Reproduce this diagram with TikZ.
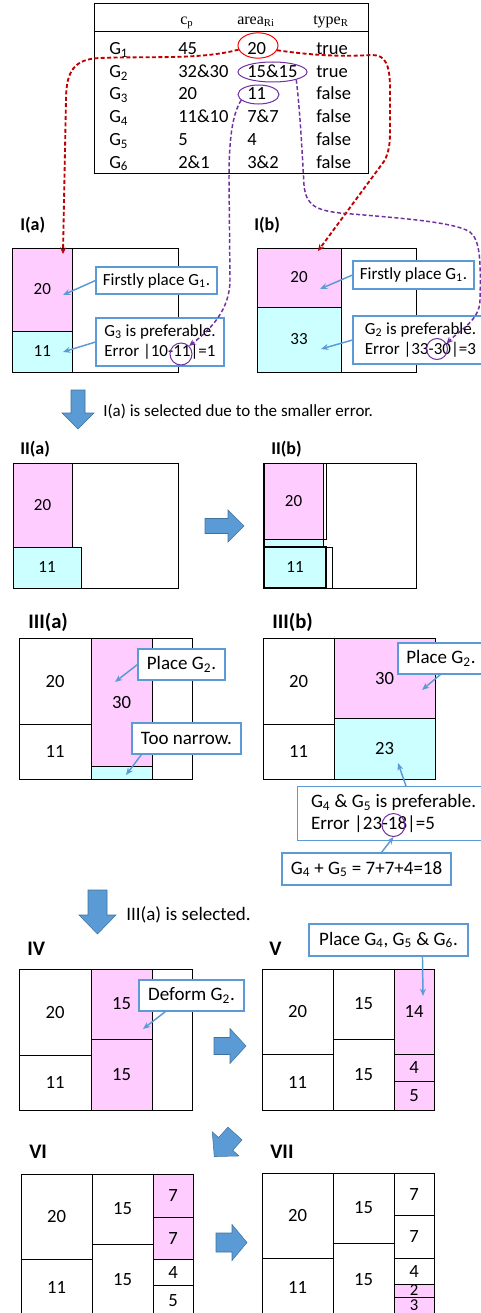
\documentclass[tikz,border=0pt]{standalone}
\usepackage{fontspec}
\setmainfont{Carlito}
\newfontfamily\tabserif{Liberation Serif}
\usetikzlibrary{arrows.meta,calc,shapes.geometric}
\definecolor{pinkf}{HTML}{FFCCFF}
\definecolor{cyanf}{HTML}{CCFFFF}
\definecolor{callblue}{HTML}{5B9BD5}
\definecolor{arrfill}{HTML}{5B9BD5}
\definecolor{arrline}{HTML}{41719C}
\definecolor{darkred}{HTML}{C00000}
\definecolor{brightred}{HTML}{FF0000}
\definecolor{purp}{HTML}{7030A0}
\newcommand{\cellnode}[8][]{\pgfmathsetmacro\mycw{(#5-#3)*0.75}\pgfmathsetmacro\mych{(#6-#4)*0.75}\node[cellbox,#1,fill=#7,minimum width=\mycw pt,minimum height=\mych pt] (#2) at ({(#3+#5)/2},{(#4+#6)/2}) {#8};}
\newcommand{\callnode}[8][]{\pgfmathsetmacro\mycw{(#5-#3)*0.75}\pgfmathsetmacro\mych{(#6-#4)*0.75}\node[calloutbox,#1,align=#7,minimum width=\mycw pt,minimum height=\mych pt] (#2) at ({(#3+#5)/2},{(#4+#6)/2}) {#8};}
\newcommand{\blockarr}[7]{\begin{scope}[shift={(#1,#2)},rotate=#3]\filldraw[blockarrow] (0,{-#6/2}) -- ({#4-#5},{-#6/2}) -- ({#4-#5},{-#7/2}) -- (#4,0) -- ({#4-#5},{#7/2}) -- ({#4-#5},{#6/2}) -- (0,{#6/2}) -- cycle;\end{scope}}
\begin{document}
\begin{tikzpicture}[x=0.75pt,y=-0.75pt,
 cellbox/.style={draw=black,line width=0.75pt,inner sep=0pt,font=\fontsize{12.75}{15}\selectfont},
 bignum/.style={font=\fontsize{14}{17}\selectfont},
 tinynum/.style={font=\fontsize{12.5}{13}\selectfont},
 calloutbox/.style={draw=callblue,fill=white,line width=0.8pt,inner sep=0pt,font=\fontsize{12.75}{15.3}\selectfont},
 bigtext/.style={font=\fontsize{14.25}{17}\selectfont},
 callarrow/.style={callblue,line width=1.1pt,-{Stealth[length=5.5pt,width=4.5pt]}},
 blockarrow/.style={fill=arrfill,draw=arrline,line width=0.4pt},
 reddash/.style={darkred,line width=1.4pt,dash pattern=on 3pt off 1.8pt,-{Stealth[length=5pt,width=4.5pt]}},
 purpdash/.style={purp,line width=1.1pt,dash pattern=on 3pt off 1.8pt,-{Stealth[length=5pt,width=4.5pt]}},
 tabtext/.style={font=\fontsize{13.9}{16}\selectfont,inner sep=0pt,anchor=base west},
 hdrtext/.style={font=\tabserif\fontsize{12}{14}\selectfont,inner sep=0pt,anchor=base west},
 plabel/.style={font=\fontsize{13.5}{16}\selectfont\bfseries,inner sep=0pt,anchor=base west},
 biglabel/.style={font=\fontsize{15.5}{18}\selectfont\bfseries,inner sep=0pt,anchor=base west},
 bodytext/.style={font=\fontsize{12.75}{15}\selectfont,inner sep=0pt,anchor=base west},
 ring/.style={draw=purp,line width=0.75pt,inner sep=0pt}]
\useasboundingbox (0,0) rectangle (481,1313);
\clip (0,0) rectangle (481,1313);
% ---------- table ----------
\node[draw=black,line width=0.75pt,minimum width=205.5pt,minimum height=128pt,inner sep=0pt] (tbl) at (231.3,88.65) {};
\draw[line width=0.75pt] ($(tbl.north west)+(0,29)$) -- ($(tbl.north east)+(0,29)$);
\node[hdrtext] (h1) at (180,24.5) {c\textsubscript{p}};
\node[hdrtext] (h2) at (237,24.5) {area\textsubscript{Ri}};
\node[hdrtext] (h3) at (313,24.5) {type\textsubscript{R}};
\node[tabtext] (g1) at (109,54.5) {G\textsubscript{1}};
\node[tabtext] (g2) at (109,77.2) {G\textsubscript{2}};
\node[tabtext] (g3) at (109,99.9) {G\textsubscript{3}};
\node[tabtext] (g4) at (109,122.6) {G\textsubscript{4}};
\node[tabtext] (g5) at (109,145.3) {G\textsubscript{5}};
\node[tabtext] (g6) at (109,168) {G\textsubscript{6}};
\node[tabtext] (p1) at (178,54.5) {45};
\node[tabtext] (p2) at (178,77.2) {32\&30};
\node[tabtext] (p3) at (178,99.9) {20};
\node[tabtext] (p4) at (178,122.6) {11\&10};
\node[tabtext] (p5) at (178,145.3) {5};
\node[tabtext] (p6) at (178,168) {2\&1};
\node[tabtext] (a1) at (247,54.5) {20};
\node[tabtext] (a2) at (247,77.2) {15\&15};
\node[tabtext] (a3) at (247,99.9) {11};
\node[tabtext] (a4) at (247,122.6) {7\&7};
\node[tabtext] (a5) at (247,145.3) {4};
\node[tabtext] (a6) at (247,168) {3\&2};
\node[tabtext] (r1) at (316,54.5) {true};
\node[tabtext] (r2) at (316,77.2) {true};
\node[tabtext] (r3) at (316,99.9) {false};
\node[tabtext] (r4) at (316,122.6) {false};
\node[tabtext] (r5) at (316,145.3) {false};
\node[tabtext] (r6) at (316,168) {false};
\node[draw=brightred,line width=0.75pt,ellipse,inner sep=0pt,minimum width=30pt,minimum height=19pt] (e20) at (258,45.5) {};
\node[ring,ellipse,minimum width=51.75pt,minimum height=15pt] (e1515) at (272.5,72) {};
\node[ring,ellipse,minimum width=30.75pt,minimum height=14.25pt] (e11) at (258.5,94.5) {};
% ---------- I(a) ----------
\node[plabel] (lIa) at (20,230) {I(a)};
\cellnode{Ia}{12.7}{248}{178}{372}{white}{}
\cellnode{Ia20}{12.7}{248}{72}{331}{pinkf}{20}
\cellnode{Ia11}{12.7}{331}{72}{372}{cyanf}{11}
\callnode{IaC1}{96}{267}{217}{294}{center}{Firstly place G\textsubscript{1}.}
\callnode{IaC2}{96}{318}{224}{366}{left}{G\textsubscript{3} is preferable.\\Error |10-11|=1}
\coordinate (aIa1) at (63,295);
\coordinate (aIa2) at (63,352);
\draw[callarrow] (IaC1.west) -- (aIa1);
\draw[callarrow] (IaC2.west) -- (aIa2);
\node[ring,circle,minimum size=16.5pt] (c11) at (181,354) {};
% ---------- I(b) ----------
\node[plabel] (lIb) at (254,230) {I(b)};
\cellnode{Ib}{257}{248}{416}{372}{white}{}
\cellnode{Ib20}{257}{248}{341}{307}{pinkf}{20}
\cellnode{Ib33}{257}{307}{341}{372}{cyanf}{33}
\callnode{IbC1}{353}{261}{474}{289}{center}{Firstly place G\textsubscript{1}.}
\callnode{IbC2}{353}{316}{488}{364}{left}{G\textsubscript{2} is preferable.\\Error |33-30|=3}
\coordinate (aIb1) at (320,289);
\coordinate (aIb2) at (321,349);
\draw[callarrow] (IbC1.west) -- (aIb1);
\draw[callarrow] (IbC2.west) -- (aIb2);
\node[ring,circle,minimum size=15.75pt] (c30) at (437,349) {};
% ---------- dashed links ----------
\coordinate (tIa) at (63,254);
\coordinate (tIb) at (318,251);
\draw[reddash] (e20.192) .. controls (200,60) and (150,56) .. (100,58) .. controls (75,59) and (66,70) .. (66,100) -- (tIa);
\draw[reddash] (e20.346) .. controls (310,55) and (340,57) .. (372,55) .. controls (386,55) and (390,65) .. (390,90) -- (390,130) .. controls (390,145) and (389,150) .. (385,160) -- (tIb);
\draw[purpdash] (e11.198) .. controls (232,115) and (229,140) .. (229,180) -- (230,280) .. controls (230,310) and (210,330) .. (c11.45);
\draw[purpdash] (e1515.-18) .. controls (300,110) and (302,150) .. (304,185) .. controls (306,205) and (315,210) .. (340,213) .. controls (400,218) and (455,222) .. (470,232) .. controls (480,240) and (481,260) .. (480,300) .. controls (480,320) and (460,330) .. (c30.30);
% ---------- step 1 arrow ----------
\blockarr{78}{390}{-90}{39}{16}{14}{32}
\node[bodytext] (s1) at (103,416) {I(a) is selected due to the smaller error.};
% ---------- II(a) ----------
\node[plabel] (lIIa) at (20,454) {II(a)};
\cellnode{IIa}{13}{463}{178}{588}{white}{}
\cellnode{IIa20}{13}{463}{72}{547}{pinkf}{20}
\cellnode{IIa11}{13}{547}{81}{588}{cyanf}{11}
\blockarr{205}{526}{0}{39}{16}{15}{32}
% ---------- II(b) ----------
\node[plabel] (lIIb) at (271,454) {II(b)};
\cellnode{IIb}{263}{463}{416}{588}{white}{}
\cellnode{IIb20}{264}{463}{323}{539}{pinkf}{20}
\cellnode{IIbx}{264}{463}{326}{539}{none}{}
\cellnode{IIbs}{264}{539}{323}{547}{cyanf}{}
\cellnode{IIby}{264}{547}{332}{588}{none}{}
\cellnode[line width=1.4pt]{IIb11}{264}{547}{326}{588}{cyanf}{11}
% ---------- III(a) ----------
\node[biglabel] (lIIIa) at (28,628) {III(a)};
\cellnode{IIIa}{19}{638}{192}{779}{white}{}
\cellnode[bignum]{IIIa20}{19}{638}{91}{724}{white}{20}
\cellnode[bignum]{IIIa11}{19}{724}{91}{779}{white}{11}
\cellnode[bignum]{IIIa30}{91}{638}{152}{766}{pinkf}{30}
\cellnode{IIIas}{91}{766}{152}{779}{cyanf}{}
\callnode[bigtext]{IIIaC1}{138}{649}{225}{680}{center}{Place G\textsubscript{2}.}
\callnode[bigtext]{IIIaC2}{132}{723}{241}{754}{center}{Too narrow.}
\coordinate (aIIIa1) at (115,682);
\coordinate (aIIIa2) at (126,775);
\draw[callarrow] (IIIaC1.west) -- (aIIIa1);
\draw[callarrow] ($(IIIaC2.south west)+(10,0)$) -- (aIIIa2);
% ---------- III(b) ----------
\node[biglabel] (lIIIb) at (272,628) {III(b)};
\cellnode{IIIb}{263}{638}{435}{779}{white}{}
\cellnode[bignum]{IIIb20}{263}{638}{334}{724}{white}{20}
\cellnode[bignum]{IIIb11}{263}{724}{334}{779}{white}{11}
\cellnode[bignum]{IIIb30}{334}{638}{435}{718}{pinkf}{30}
\cellnode[bignum]{IIIb23}{334}{718}{435}{779}{cyanf}{23}
\callnode[bigtext]{IIIbC1}{398}{643}{484}{674}{center}{Place G\textsubscript{2}.}
\node[calloutbox,bigtext,anchor=north west,minimum width=144pt,minimum height=40.5pt,inner xsep=6pt,align=left] (IIIbC2) at (297,786) {G\textsubscript{4} \& G\textsubscript{5} is preferable.\\Error |23-18|=5};
\callnode[bigtext]{IIIbC3}{282}{853}{451}{885}{center}{G\textsubscript{4} + G\textsubscript{5} = 7+7+4=18}
\coordinate (aIIIb1) at (422,690);
\coordinate (aIIIb2) at (398,763);
\draw[callarrow] ($(IIIbC1.south west)+(43,0)$) -- (aIIIb1);
\draw[callarrow] ($(IIIbC2.north west)+(109,0)$) -- (aIIIb2);
\node[ring,circle,minimum size=17.25pt] (c18) at (393.5,825) {};
\draw[callarrow] ($(IIIbC3.north west)+(100,0)$) -- (c18.south);
% ---------- step 2 arrow ----------
\blockarr{97.5}{890}{-90}{44}{19}{19}{37}
\node[bodytext,bigtext] (s2) at (126,920) {III(a) is selected.};
% ---------- IV ----------
\node[biglabel] (lIV) at (27,955) {IV};
\cellnode{IV}{19}{969}{192}{1110}{white}{}
\cellnode[bignum]{IV20}{19}{969}{91}{1055}{white}{20}
\cellnode[bignum]{IV11}{19}{1055}{91}{1110}{white}{11}
\cellnode[bignum]{IV15a}{91}{969}{152}{1039}{pinkf}{15}
\cellnode[bignum]{IV15b}{91}{1039}{152}{1110}{pinkf}{15}
\callnode[bigtext]{IVC}{139}{980}{244}{1011}{center}{Deform G\textsubscript{2}.}
\coordinate (aIV) at (143,1029);
\draw[callarrow] ($(IVC.south west)+(27,0)$) -- (aIV);
\blockarr{214}{1046}{0}{32}{16}{17}{35}
% ---------- V ----------
\node[biglabel] (lV) at (269,955) {V};
\cellnode{V}{262}{969}{434}{1110}{white}{}
\cellnode[bignum]{V20}{262}{969}{333}{1054}{white}{20}
\cellnode[bignum]{V11}{262}{1054}{333}{1110}{white}{11}
\cellnode[bignum]{V15a}{333}{969}{394}{1039}{white}{15}
\cellnode[bignum]{V15b}{333}{1039}{394}{1110}{white}{15}
\cellnode[bignum]{V14}{394}{969}{434}{1054}{pinkf}{14}
\cellnode[bignum]{V4}{394}{1054}{434}{1081}{pinkf}{4}
\cellnode[bignum]{V5}{394}{1081}{434}{1110}{pinkf}{5}
\callnode[bigtext]{VC}{309}{924}{468}{956}{center}{Place G\textsubscript{4}, G\textsubscript{5} \& G\textsubscript{6}.}
\coordinate (aV) at (423,996);
\draw[callarrow] ($(VC.south west)+(114,0)$) -- (aV);
\blockarr{235}{1133.5}{228}{31}{17}{19}{36}
% ---------- VI ----------
\node[biglabel] (lVI) at (29,1158) {VI};
\cellnode{VI}{21}{1174}{193}{1316}{white}{}
\cellnode[bignum]{VI20}{21}{1174}{92}{1259}{white}{20}
\cellnode[bignum]{VI11}{21}{1259}{92}{1316}{white}{11}
\cellnode[bignum]{VI15a}{92}{1174}{153}{1244}{white}{15}
\cellnode[bignum]{VI15b}{92}{1244}{153}{1316}{white}{15}
\cellnode[bignum]{VI7a}{153}{1174}{193}{1217}{pinkf}{7}
\cellnode[bignum]{VI7b}{153}{1217}{193}{1259}{pinkf}{7}
\cellnode[bignum]{VI4}{153}{1259}{193}{1285}{white}{4}
\cellnode[bignum]{VI5}{153}{1285}{193}{1316}{white}{5}
\blockarr{216}{1242.5}{0}{31}{15}{19}{36}
% ---------- VII ----------
\node[biglabel] (lVII) at (270,1158) {VII};
\cellnode{VII}{262}{1173}{434}{1316}{white}{}
\cellnode[bignum]{VII20}{262}{1173}{333}{1258}{white}{20}
\cellnode[bignum]{VII11}{262}{1258}{333}{1316}{white}{11}
\cellnode[bignum]{VII15a}{333}{1173}{394}{1243}{white}{15}
\cellnode[bignum]{VII15b}{333}{1243}{394}{1316}{white}{15}
\cellnode[bignum]{VII7a}{394}{1173}{434}{1215}{white}{7}
\cellnode[bignum]{VII7b}{394}{1215}{434}{1258}{white}{7}
\cellnode[bignum]{VII4}{394}{1258}{434}{1284}{white}{4}
\cellnode[tinynum]{VII2}{394}{1284}{434}{1297}{pinkf}{2}
\cellnode[tinynum,draw=none]{VII3}{394}{1297}{434}{1313}{pinkf}{3}
\draw[line width=0.75pt] (394,1297) -- (394,1316) (434,1297) -- (434,1316) (394,1297) -- (434,1297);
\end{tikzpicture}
\end{document}
